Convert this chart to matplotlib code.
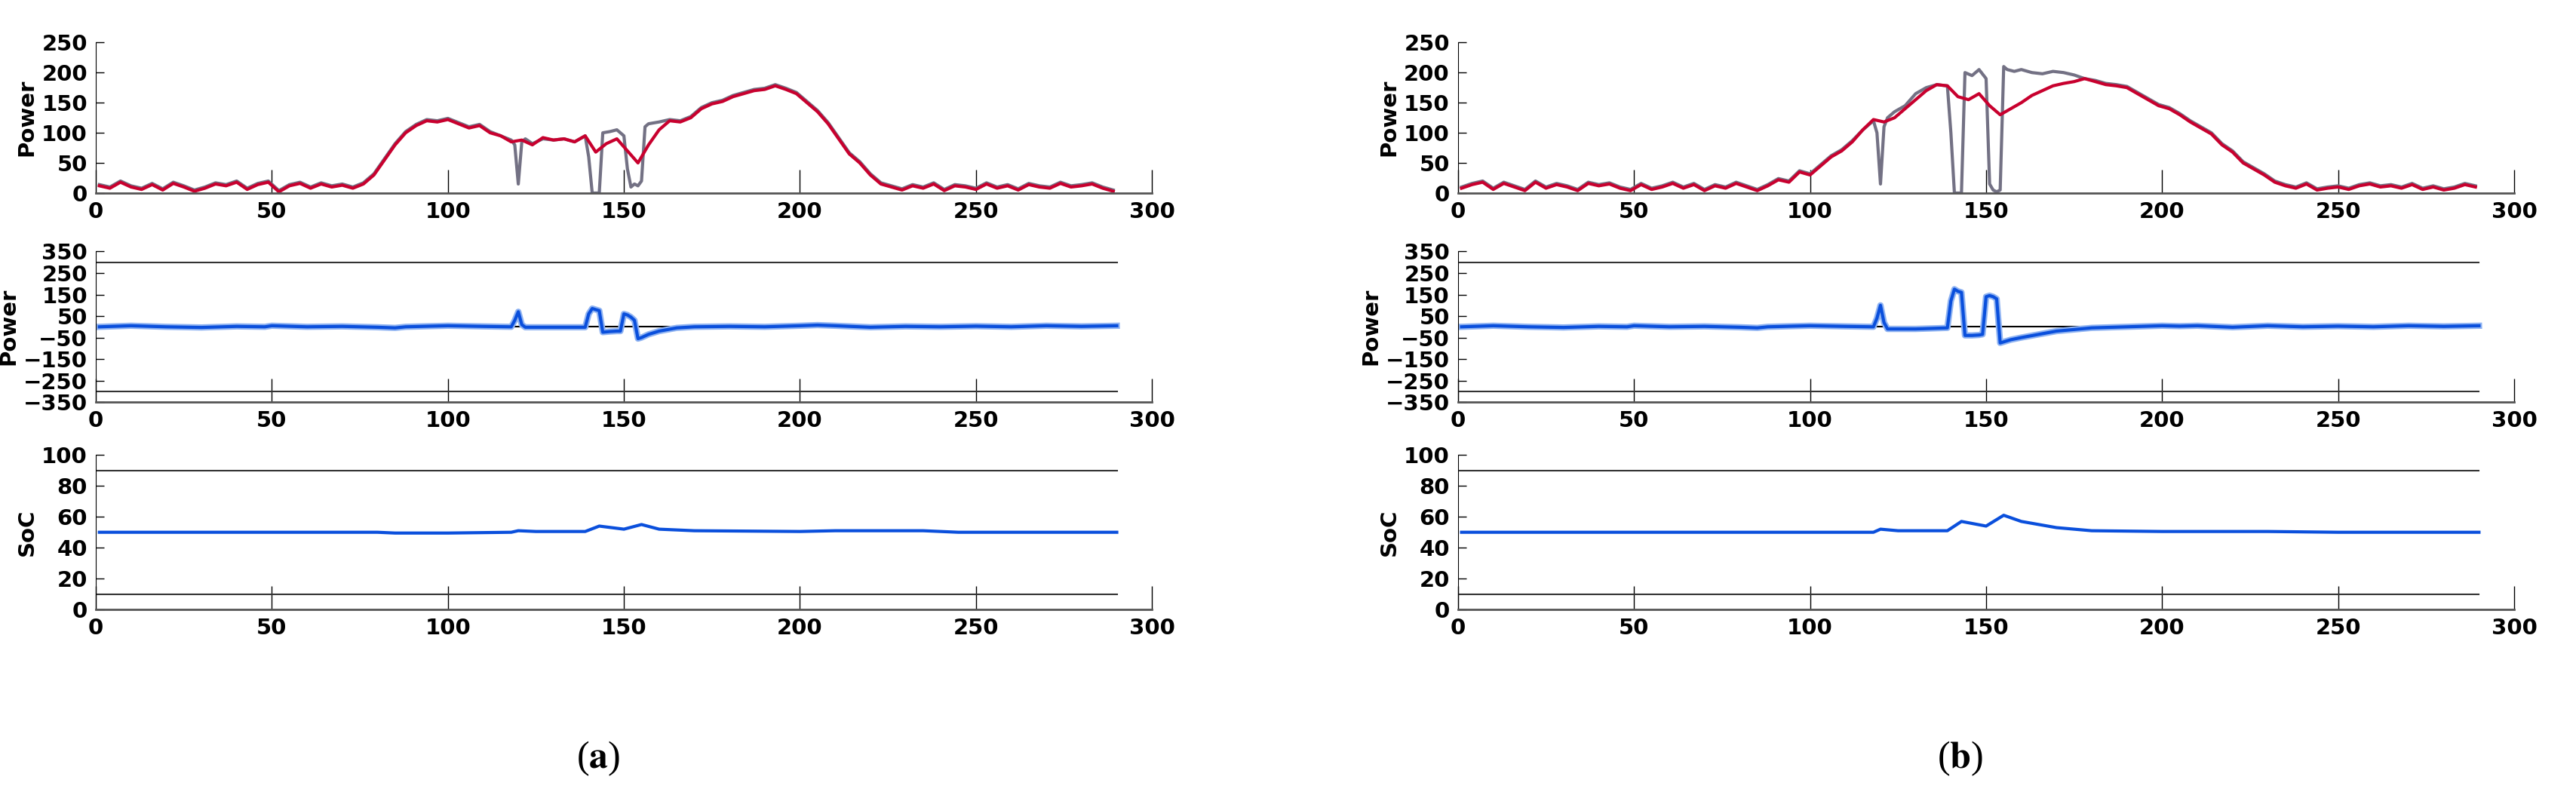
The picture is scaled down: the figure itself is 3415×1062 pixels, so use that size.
import matplotlib.pyplot as plt
import numpy as np

# ---------------- data ----------------
grid_x = np.arange(1, 290, 3)  # 97 points, 1..289

red_a = [12, 8, 18, 10, 6, 14, 5, 16, 10, 3, 8, 15, 12, 18, 6, 14, 18, 2, 12, 16, 8, 15, 10, 13, 8,
         15, 30, 55, 80, 100,
         112, 120, 118, 122, 115, 108, 112, 100, 95, 85,
         88, 80, 92, 88, 90, 85, 95,
         68, 82, 90, 70, 50,
         80, 105, 120, 118, 125, 140, 148, 152, 160, 165, 170, 172, 178, 172, 165,
         150, 135, 115, 90, 65, 50, 30, 15, 10,
         5, 12, 8, 15, 4, 12, 10, 6, 15, 8, 12, 5, 14, 10, 8, 16, 10, 12, 15, 8, 3]

red_b = [8, 14, 18, 6, 16, 10, 4, 18, 8, 14, 10, 4, 16, 12, 15, 8, 4, 14, 6, 10, 16, 8, 14, 4, 12, 8, 16, 10, 4,
         12, 22, 18, 35, 30, 45, 60, 70, 85, 105, 122,
         118, 125, 140, 155, 170, 180, 178,
         160, 155, 165, 145, 130,
         140, 150, 162, 170, 178, 182, 185, 190, 185, 180, 178, 175, 165, 155, 145,
         140, 130, 118, 108, 98, 80, 68, 50, 40,
         30, 18, 12, 8, 15, 5, 8, 10, 6, 12, 15, 10, 12, 8, 14, 6, 10, 5, 8, 14, 10]

# grey (measured) differs from red only in the disturbed window
grey_a_x = [115, 118, 119, 120, 121, 122, 124, 127, 130, 133, 136, 139, 140, 141, 142, 143, 144, 146,
            148, 150, 151, 152, 153, 154, 155, 156, 157, 160]
grey_a_y = [95, 88, 80, 15, 85, 90, 82, 90, 88, 90, 85, 95, 60, 0, 0, 0, 100, 102,
            105, 95, 40, 10, 15, 12, 20, 110, 115, 118]

grey_b_x = [115, 118, 119, 120, 121, 122, 124, 127, 130, 133, 136, 139, 140, 141, 142, 143, 144, 146,
            148, 150, 151, 152, 153, 154, 155, 156, 158, 160, 163, 166, 169, 172, 175, 178]
grey_b_y = [105, 120, 100, 15, 110, 125, 135, 145, 165, 175, 180, 178, 100, 0, 0, 0, 200, 195,
            205, 190, 15, 5, 2, 5, 210, 205, 202, 205, 200, 198, 202, 200, 196, 190]

batt_x = [1, 10, 20, 30, 40, 48, 50, 60, 70, 80, 85, 88, 95, 100, 110, 118, 119, 120, 121, 122,
          130, 139, 140, 141, 142, 143, 144, 146, 148, 149, 150, 151, 152, 153, 154, 155, 157, 160,
          165, 170, 180, 190, 200, 205, 210, 220, 230, 240, 250, 260, 270, 280, 290]
batt_a = [0, 5, 0, -3, 2, 0, 5, 0, 2, -2, -5, 0, 3, 5, 2, 0, 30, 70, 10, -2,
          -2, -2, 60, 85, 80, 75, -25, -22, -20, -20, 60, 55, 45, 30, -55, -50, -35, -20,
          -5, 0, 2, 0, 5, 8, 5, -2, 2, 0, 3, 0, 5, 2, 5]
batt_b = [0, 5, 0, -3, 2, 0, 5, 0, 2, -2, -5, 0, 3, 5, 2, 0, 40, 100, 20, -10,
          -10, -5, 120, 175, 165, 160, -40, -40, -38, -35, 140, 145, 140, 130, -75, -70, -60, -50,
          -35, -20, -5, 0, 5, 3, 5, -2, 5, 0, 3, 0, 5, 2, 5]

soc_a_x = [1, 80, 85, 100, 118, 120, 125, 139, 143, 150, 155, 160, 170, 200, 210, 235, 245, 290]
soc_a = [50, 50, 49.5, 49.5, 50, 51, 50.5, 50.5, 54, 52, 55, 52, 51, 50.5, 51, 51, 50, 50]
soc_b_x = [1, 118, 120, 125, 139, 143, 150, 155, 160, 170, 180, 200, 230, 250, 290]
soc_b = [50, 50, 52, 51, 51, 57, 54, 61, 57, 53, 51, 50.5, 50.5, 50, 50]

GREY = '#737184'
RED = '#c8002e'
BLUE = '#0a4fdc'

plt.rcParams['font.family'] = 'DejaVu Sans'
plt.rcParams['font.weight'] = 'bold'
plt.rcParams['font.size'] = 21

fig = plt.figure(figsize=(34.15, 10.62), dpi=100)


def style(ax, ylim, yticks, ylabel):
    ax.set_xlim(0, 300)
    ax.set_ylim(*ylim)
    ax.set_yticks(yticks)
    ax.set_xticks(range(0, 301, 50))
    ax.spines['top'].set_visible(False)
    ax.spines['right'].set_visible(False)
    ax.spines['bottom'].set_color('#555555')
    ax.spines['bottom'].set_linewidth(2)
    ax.tick_params(direction='in', length=22, width=1, pad=8)
    ax.tick_params(axis='y', length=8)
    ax.set_ylabel(ylabel, fontsize=21, fontweight='bold', labelpad=4)


cols = [(0.0372, red_a, grey_a_x, grey_a_y, batt_a, soc_a_x, soc_a, 'a'),
        (0.566, red_b, grey_b_x, grey_b_y, batt_b, soc_b_x, soc_b, 'b')]

for x0, red, gx, gy, batt, sx, soc, lab in cols:
    w = 0.410
    # top: PV power
    ax1 = fig.add_axes([x0, 0.759, w, 0.188])
    keep = (grid_x < gx[0]) | (grid_x > gx[-1])
    gxx = np.concatenate([grid_x[keep], gx])
    gyy = np.concatenate([np.array(red)[keep] + 2, gy])
    order = np.argsort(gxx)
    ax1.plot(gxx[order], gyy[order], color=GREY, lw=3)
    ax1.plot(grid_x, red, color=RED, lw=3)
    style(ax1, (0, 250), range(0, 251, 50), 'Power')

    # middle: battery power
    ax2 = fig.add_axes([x0, 0.498, w, 0.188])
    ax2.plot([0, 290], [300, 300], color='#333333', lw=1.5)
    ax2.plot([0, 290], [-300, -300], color='#333333', lw=1.5)
    ax2.plot([0, 290], [0, 0], color='black', lw=1.5)
    ax2.plot(batt_x, batt, color='#8fb3f2', lw=6)
    ax2.plot(batt_x, batt, color=BLUE, lw=3)
    style(ax2, (-350, 350), range(-350, 351, 100), 'Power')

    # bottom: state of charge
    ax3 = fig.add_axes([x0, 0.239, w, 0.193])
    ax3.plot([0, 290], [90, 90], color='#333333', lw=1.5)
    ax3.plot([0, 290], [10, 10], color='#333333', lw=1.5)
    ax3.plot(sx, soc, color=BLUE, lw=3)
    style(ax3, (0, 100), range(0, 101, 20), 'SoC')

    fig.text(x0 + w / 2 - 0.01, 0.053, r'($\mathbf{' + lab + r'}$)', fontsize=36,
             family='Liberation Serif', weight='normal', ha='center', va='center',
             math_fontfamily='stix')

fig.savefig('out.png', dpi=100)
